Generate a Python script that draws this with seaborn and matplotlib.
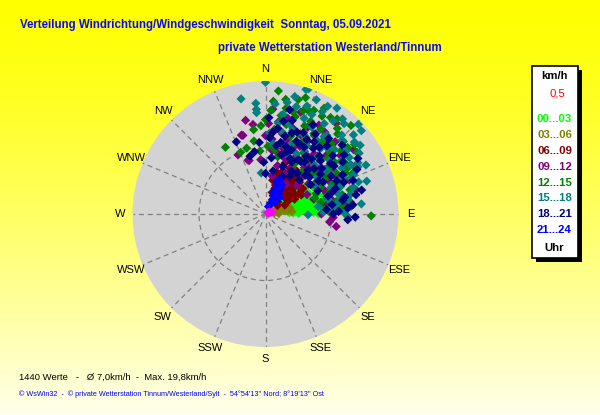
import numpy as np
import pandas as pd
import matplotlib
matplotlib.use("Agg")
import matplotlib.pyplot as plt
import seaborn as sns
from matplotlib.patches import Rectangle
from matplotlib import font_manager

# ---------------- data (direction in degrees from N, speed in km/h) ----------------
groups = ["0,5", "00...03", "03...06", "06...09", "09...12", "12...15", "15...18", "18...21", "21...24"]
colors = ["#FF00FF", "#00FF00", "#808000", "#800000", "#800080", "#008000", "#008080", "#000080", "#0000FF"]
legend_colors = ["#FF0000", "#00FF00", "#808000", "#800000", "#800080", "#008000", "#008080", "#000080", "#0000FF"]
compass = ["N", "NNE", "NE", "ENE", "E", "ESE", "SE", "SSE", "S", "SSW", "SW", "WSW", "W", "WNW", "NW", "NNW"]

calm_dir = [60, 65, 70, 75, 68]
calm_spd = [0.4, 0.6, 0.8, 1.0, 0.5]

h00_dir = [45, 50, 52, 55, 58, 60, 62, 63, 65, 66, 68, 70, 71, 72, 74, 75, 76, 77, 78, 79,
           80, 81, 82, 83, 84, 85, 86, 87, 88, 89, 90, 73, 80, 67, 58, 50, 76,
           55, 60, 64, 67, 69, 71, 73, 75, 78, 80, 82, 84, 86, 88, 90, 76, 72, 62, 57, 79]
h00_spd = [4.5, 6.0, 3.2, 7.5, 5.0, 8.2, 6.7, 3.8, 5.6, 8.8, 4.4, 7.0, 2.6, 5.8, 6.6, 8.0, 4.0, 7.4, 5.2, 6.2,
           3.2, 7.8, 5.6, 6.9, 4.6, 8.4, 6.0, 3.6, 7.2, 5.0, 6.4, 9.2, 9.0, 2.0, 2.4, 1.8, 1.6,
           4.0, 5.6, 7.2, 6.1, 8.4, 4.8, 6.8, 5.4, 8.6, 6.6, 7.6, 5.9, 7.9, 4.2, 8.0, 6.3, 3.2, 4.6, 6.4, 4.4]

h03_dir = [70, 75, 78, 80, 82, 85, 72, 77, 68, 83, 74, 88]
h03_spd = [1.0, 1.6, 2.2, 2.8, 3.4, 4.0, 2.5, 3.8, 1.8, 1.3, 3.1, 2.0]

h06_dir = [15, 18, 20, 20, 22, 24, 25, 27, 28, 30, 31, 33, 34, 35, 37, 38, 40, 41, 43, 45,
           46, 48, 50, 52, 54, 55, 57, 60, 62, 65, 17, 26, 12, 36, 44, 29,
           19, 23, 25, 28, 32, 34, 39, 42, 47, 51, 56, 59, 63, 21, 31]
h06_spd = [6.5, 5.8, 6.2, 4.1, 7.0, 5.2, 3.5, 6.6, 4.6, 5.8, 2.8, 7.2, 5.3, 4.0, 6.2, 3.2, 5.0, 7.4, 4.3, 6.0,
           2.6, 5.4, 3.8, 6.6, 4.6, 2.2, 5.3, 4.0, 6.1, 3.2, 3.4, 2.4, 5.2, 8.0, 8.2, 8.6,
           4.6, 3.0, 5.6, 7.8, 6.4, 3.6, 6.8, 5.8, 7.0, 5.0, 6.8, 5.8, 4.9, 8.2, 4.8]

h09_dir = [335, 348, 343, 344, 342, 343, 97, 100, 83, 81, 4, 8, 12, 15, 18, 20, 23, 26, 28, 30,
           33, 35, 37, 40, 42, 45, 47, 50, 53, 55, 58, 62, 66, 70, 73, 77, 82, 86, 90, 93,
           54, 44, 38, 60, 25, 14, 6, 0, 355, 352, 48, 65, 35, 22, 68, 31, 10, 75, 57,
           2, 5, 9, 11, 13, 16, 19, 21, 24, 27, 29, 32, 34, 36, 39, 41, 43, 46, 49, 52,
           56, 59, 63, 67, 71, 79]
h09_spd = [9.8, 14.4, 12.4, 12.3, 8.5, 8.4, 9.7, 10.8, 12.3, 12.6, 15.8, 14.0, 12.3, 10.2, 13.5, 8.8, 11.0, 14.5, 9.8, 12.6,
           7.8, 10.8, 13.2, 9.1, 11.7, 8.2, 13.5, 10.5, 12.1, 7.9, 10.6, 12.0, 9.4, 11.8, 7.6, 10.1, 9.2, 11.4, 8.4, 10.2,
           16.4, 15.1, 17.3, 14.8, 6.8, 7.5, 9.6, 11.8, 8.2, 13.6, 6.4, 6.9, 5.5, 4.8, 13.6, 15.6, 5.8, 14.1, 11.3,
           13.6, 11.3, 12.9, 9.4, 14.8, 11.6, 16.2, 10.2, 13.0, 11.4, 8.1, 13.9, 9.6, 15.2, 11.6, 14.3, 10.1, 12.6, 8.9, 14.3,
           11.9, 8.8, 10.8, 12.6, 9.7, 11.6]

h12_dir = [16, 329, 351, 344, 9, 37, 91, 76, 4, 10, 20, 25, 30, 33, 28, 40, 43, 47, 50, 53,
           57, 60, 63, 66, 70, 74, 80, 84, 88, 24, 18, 13, 6, 0, 357, 352, 2, 14, 21, 27,
           32, 36, 39, 45, 49, 55, 58, 64, 68, 72, 78, 30, 35, 41, 12, 8, 46, 52, 22, 62,
           17, 355, 338,
           6, 11, 15, 19, 23, 26, 29, 31, 34, 38, 42, 44, 48, 51, 54, 56, 59, 61, 65, 67,
           71, 76, 82, 86, 3]
h12_spd = [17.9, 11.7, 11.1, 10.3, 15.0, 17.9, 15.9, 11.9, 17.0, 17.5, 16.5, 17.2, 17.0, 15.2, 13.0, 16.8, 14.5, 16.0, 14.8, 13.0,
           14.2, 12.3, 13.5, 11.0, 10.4, 13.2, 10.8, 11.6, 9.6, 14.5, 12.3, 13.8, 12.8, 14.2, 13.3, 12.8, 10.2, 10.8, 11.2, 12.0,
           10.8, 12.5, 10.5, 11.8, 9.6, 10.6, 8.8, 9.2, 8.2, 7.8, 8.5, 8.7, 9.6, 8.4, 8.8, 9.8, 13.4, 17.0, 13.1, 15.2,
           15.3, 9.5, 10.0,
           18.6, 16.2, 15.9, 18.5, 16.8, 15.5, 18.2, 14.1, 17.5, 13.8, 16.2, 18.5, 12.6, 15.9, 11.8, 16.6, 10.5, 13.9, 14.4, 12.3,
           11.5, 9.5, 12.9, 8.9, 15.6]

h15_dir = [0, 19, 18, 348, 355, 355, 355, 5, 30, 41, 46, 49, 54, 61, 63, 73, 84, 92, 91, 354,
           12, 15, 22, 25, 28, 33, 35, 38, 40, 44, 47, 50, 52, 55, 58, 60, 65, 68, 70, 75,
           78, 80, 85, 88, 20, 27, 31, 18, 8, 10, 3, 23, 45, 55, 62, 36, 42, 48, 57, 16,
           6, 66, 72, 85, 82,
           14, 24, 26, 29, 34, 37, 39, 43, 46, 51, 53, 56, 59, 64, 67, 69, 71, 74, 77, 81,
           86, 89, 32, 21, 11]
h15_spd = [19.8, 19.9, 19.7, 17.7, 16.7, 15.8, 15.3, 16.6, 18.7, 18.0, 19.4, 19.1, 17.6, 15.9, 15.6, 13.8, 14.5, 12.4, 6.4, 6.2,
           12.5, 14.0, 15.5, 16.5, 14.8, 16.2, 13.5, 15.0, 12.8, 16.5, 14.2, 12.6, 15.4, 13.8, 11.5, 14.7, 12.8, 10.6, 12.0, 11.4,
           9.8, 12.6, 10.5, 8.7, 11.0, 10.2, 12.0, 13.2, 13.8, 15.2, 12.2, 9.2, 10.4, 9.5, 8.6, 17.3, 11.5, 17.8, 16.8, 16.8,
           10.6, 14.5, 16.0, 12.9, 8.0,
           18.2, 18.8, 13.2, 17.6, 19.2, 14.6, 18.4, 13.6, 16.0, 17.2, 11.2, 15.2, 13.4, 16.8, 13.9, 11.6, 14.8, 9.6, 13.1, 11.1,
           9.3, 11.8, 11.1, 17.4, 17.1]

h18_dir = [338, 350, 0, 13, 59, 78, 94, 86, 345, 355, 3, 6, 8, 12, 15, 18, 20, 22, 25, 27,
           30, 32, 34, 36, 38, 40, 42, 44, 46, 48, 50, 52, 54, 56, 58, 60, 63, 66, 70, 74,
           80, 84, 88, 90, 10, 16, 24, 28, 33, 45, 23, 35, 47, 53, 2, 358, 64, 68, 76, 92,
           19, 39, 31,
           5, 9, 11, 14, 17, 21, 24, 26, 29, 31, 34, 37, 40, 43, 46, 49, 51, 55, 57, 61,
           65, 69, 72, 78, 82, 86]
h18_spd = [11.7, 9.5, 6.1, 16.1, 16.2, 13.9, 12.4, 9.2, 9.0, 10.8, 11.5, 8.5, 13.0, 11.0, 9.2, 12.8, 7.6, 10.4, 13.5, 8.8,
           11.6, 14.2, 9.5, 12.2, 7.8, 10.8, 13.8, 9.2, 11.5, 15.5, 8.6, 12.4, 10.2, 14.0, 9.4, 11.4, 13.0, 8.6, 11.2, 9.8,
           11.8, 13.2, 11.0, 10.2, 6.6, 14.6, 6.2, 15.2, 6.8, 7.2, 11.9, 10.6, 10.0, 14.8, 14.5, 7.8, 15.3, 12.7, 14.9, 13.5,
           9.9, 12.9, 9.5,
           12.3, 10.4, 14.2, 12.1, 10.6, 13.2, 9.1, 11.7, 12.8, 7.5, 13.1, 9.8, 14.8, 11.9, 8.4, 13.4, 10.9, 12.6, 8.1, 9.9,
           11.8, 14.1, 10.5, 12.2, 10.1, 12.4]

h21_dir = [22, 25, 27, 24, 28, 22, 26, 21, 30, 33, 35, 31, 19, 23, 29, 38, 40, 20]
h21_spd = [1.2, 1.8, 2.4, 3.0, 3.4, 4.0, 4.4, 4.9, 2.0, 2.8, 3.6, 4.2, 5.2, 5.6, 5.0, 2.4, 3.2, 3.5]

# chronological drawing order (later hours on top), calm points last
series = [(h00_dir, h00_spd, "00...03"), (h03_dir, h03_spd, "03...06"), (h06_dir, h06_spd, "06...09"),
          (h09_dir, h09_spd, "09...12"), (h12_dir, h12_spd, "12...15"), (h15_dir, h15_spd, "15...18"),
          (h18_dir, h18_spd, "18...21"), (h21_dir, h21_spd, "21...24"), (calm_dir, calm_spd, "0,5")]
frames = [pd.DataFrame({"theta": np.deg2rad(d), "speed": s, "group": g}) for d, s, g in series]
df = pd.concat(frames, ignore_index=True)
palette = dict(zip(groups, colors))

# narrow font if available (reference text is condensed)
_names = {f.name for f in font_manager.fontManager.ttflist}
if "Liberation Sans Narrow" in _names:
    narrow, nscale = "Liberation Sans Narrow", 1.0 / 0.82
else:
    narrow, nscale = "Liberation Sans", 1.0

# ---------------- figure ----------------
W, H = 600, 415
fig = plt.figure(figsize=(W / 100, H / 100), dpi=100)

# yellow background gradient
bg = fig.add_axes([0, 0, 1, 1], zorder=-10)
t = np.linspace(0, 1, 200)[:, None]
blue = (t ** 1.3) * 235
grad = np.dstack([np.ones((200, 2)) * 255, np.ones((200, 2)) * 255, np.hstack([blue, blue])]) / 255
bg.imshow(grad, aspect="auto", extent=[0, 1, 0, 1], origin="upper")
bg.set_axis_off()

# polar axes: centre (265.5, 214) px, radius 133 px
cx, cy, R = 265.5, 214.0, 133.0
ax = fig.add_axes([(cx - R) / W, (H - cy - R) / H, 2 * R / W, 2 * R / H], projection="polar")
ax.set_theta_zero_location("N")
ax.set_theta_direction(-1)
ax.set_facecolor("#D3D3D3")
ax.spines["polar"].set_visible(False)

sns.scatterplot(data=df, x="theta", y="speed", hue="group", palette=palette, marker="D",
                s=22, linewidth=0, legend=False, ax=ax, zorder=3)
ax.set_xlabel("")
ax.set_ylabel("")
ax.set_ylim(0, 20)
ax.set_rticks([10])
ax.set_yticklabels([])
ax.set_thetagrids(np.arange(0, 360, 22.5), labels=compass,
                  fontsize=8, family="Liberation Sans", color="black")
ax.tick_params(axis="x", pad=-1.8)
ax.grid(True, color="#808080", linestyle=(0, (4, 3)), linewidth=0.9)

# ---------------- titles ----------------
title_col = "#0A0AF0"
fig.text(20 / W, 1 - 25 / H, "Verteilung Windrichtung/Windgeschwindigkeit  Sonntag, 05.09.2021",
         color=title_col, fontsize=8.3 * nscale, fontweight="bold", family=narrow,
         ha="left", va="center")
fig.text(218 / W, 1 - 48 / H, "private Wetterstation Westerland/Tinnum",
         color=title_col, fontsize=8.3 * nscale, fontweight="bold", family=narrow,
         ha="left", va="center")

# ---------------- footer ----------------
fig.text(19 / W, 1 - 377 / H, "1440 Werte   -   Ø 7,0km/h  -  Max. 19,8km/h",
         color="black", fontsize=6.8 * nscale, family=narrow, ha="left", va="center")
fig.text(19 / W, 1 - 394 / H,
         "© WsWin32  -  © private Wetterstation Tinnum/Westerland/Sylt  -  54°54'13'' Nord; 8°19'13'' Ost",
         color="#0000FF", fontsize=5.2 * nscale, family=narrow, ha="left", va="center")

# ---------------- legend box ----------------
bx0, by0, bx1, by1 = 531.5, 66, 577.5, 258
fig.patches.append(Rectangle(((bx0 + 4) / W, 1 - (by1 + 4) / H), (bx1 - bx0) / W, (by1 - by0) / H,
                             transform=fig.transFigure, facecolor="black", edgecolor="none", zorder=1))
fig.patches.append(Rectangle((bx0 / W, 1 - by1 / H), (bx1 - bx0) / W, (by1 - by0) / H,
                             transform=fig.transFigure, facecolor="white", edgecolor="black",
                             linewidth=1.2, zorder=2))
lx = (bx0 + bx1) / 2 / W
fig.text(lx, 1 - 76 / H, "km/h", fontsize=8.2, fontweight="bold", color="black",
         family="Liberation Sans", ha="center", va="center", zorder=5)
fig.text(lx + 3 / W, 1 - 93 / H, groups[0], fontsize=8.2, color=legend_colors[0],
         family="Liberation Sans", ha="center", va="center", zorder=5)
ys = [119.5, 135, 150.5, 166.5, 182.5, 198, 214, 230]
for g, c, yy in zip(groups[1:], legend_colors[1:], ys):
    fig.text(lx, 1 - yy / H, g, fontsize=8.2, fontweight="bold", color=c,
             family="Liberation Sans", ha="center", va="center", zorder=5)
fig.text(lx, 1 - 248 / H, "Uhr", fontsize=8.2, fontweight="bold", color="black",
         family="Liberation Sans", ha="center", va="center", zorder=5)

fig.savefig("out.png", dpi=100)
